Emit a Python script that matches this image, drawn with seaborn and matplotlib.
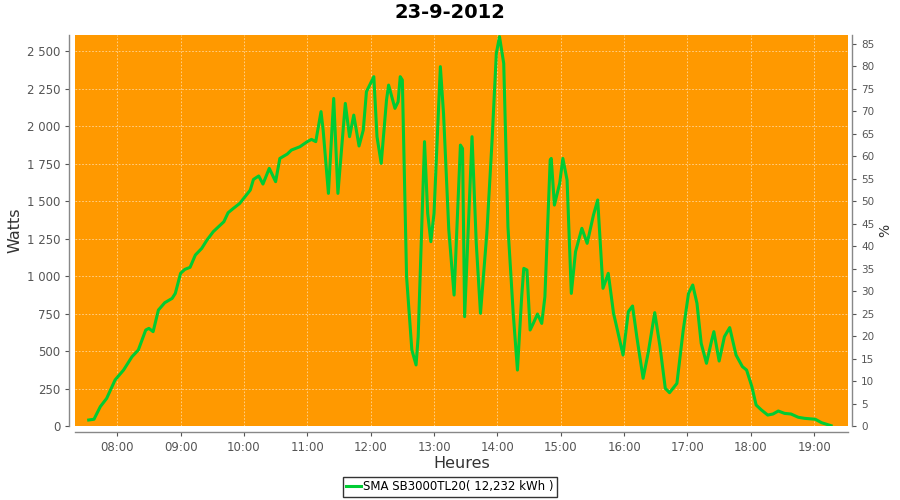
import pandas as pd
import seaborn as sns
import matplotlib.pyplot as plt
import matplotlib.dates as mdates
from matplotlib.ticker import FuncFormatter, MultipleLocator

# readings of the day (time, watts)
times = [
    "07:33", "07:38", "07:44", "07:50", "07:58", "08:06", "08:14", "08:20", "08:27", "08:30",
    "08:34", "08:39", "08:45", "08:52", "08:55", "09:00", "09:04", "09:09", "09:14", "09:20",
    "09:25", "09:31", "09:36", "09:41", "09:45", "09:50", "09:56", "10:01", "10:06", "10:09",
    "10:14", "10:18", "10:24", "10:30", "10:34", "10:41", "10:45", "10:53", "11:00", "11:04",
    "11:08", "11:13", "11:15", "11:20", "11:25", "11:29", "11:36", "11:40", "11:44", "11:49",
    "11:53", "11:56", "12:03", "12:06", "12:10", "12:15", "12:17", "12:23", "12:26", "12:28",
    "12:30", "12:34", "12:39", "12:43", "12:45", "12:51", "12:54", "12:57", "13:00", "13:06",
    "13:09", "13:14", "13:19", "13:25", "13:27", "13:29", "13:36", "13:40", "13:44", "13:50",
    "13:55", "13:59", "14:02", "14:06", "14:10", "14:15", "14:19", "14:23", "14:25", "14:28",
    "14:31", "14:34", "14:38", "14:42", "14:45", "14:50", "14:51", "14:54", "14:59", "15:02",
    "15:06", "15:10", "15:14", "15:20", "15:25", "15:31", "15:35", "15:40", "15:45", "15:50",
    "15:54", "15:59", "16:04", "16:08", "16:12", "16:18", "16:23", "16:29", "16:34", "16:39",
    "16:43", "16:50", "16:56", "17:01", "17:05", "17:09", "17:13", "17:18", "17:23", "17:25",
    "17:30", "17:35", "17:40", "17:46", "17:52", "17:56", "18:01", "18:05", "18:10", "18:16",
    "18:21", "18:26", "18:32", "18:38", "18:45", "18:51", "19:01", "19:07", "19:16",
]
watts = [
    40, 45, 129, 184, 307, 373, 462, 507, 640, 651,
    629, 773, 822, 851, 884, 1018, 1044, 1058, 1140, 1184,
    1240, 1296, 1329, 1362, 1422, 1451, 1484, 1529, 1573, 1644,
    1667, 1613, 1718, 1629, 1784, 1813, 1840, 1862, 1896, 1911,
    1896, 2096, 1973, 1551, 2184, 1551, 2151, 1929, 2073, 1867,
    1973, 2229, 2329, 1929, 1751, 2173, 2273, 2118, 2162, 2329,
    2307, 996, 507, 407, 596, 1896, 1418, 1229, 1418, 2396,
    2084, 1307, 873, 1873, 1850, 729, 1929, 1218, 751, 1284,
    1907, 2484, 2596, 2418, 1329, 751, 373, 862, 1051, 1040,
    640, 684, 747, 684, 862, 1773, 1784, 1473, 1618, 1784,
    1640, 884, 1162, 1318, 1218, 1407, 1507, 918, 1018, 751,
    629, 473, 762, 800, 596, 318, 496, 756, 529, 251,
    222, 284, 640, 884, 940, 818, 551, 418, 573, 629,
    433, 596, 656, 473, 396, 373, 262, 140, 107, 73,
    80, 100, 84, 80, 58, 51, 45, 22, 2,
]
day = "2012-09-23"
title = "23-9-2012"
series_name = "SMA SB3000TL20( 12,232 kWh )"
nominal_power = 3000  # W, for the % axis

df = pd.DataFrame({
    "time": pd.to_datetime([f"{day} {t}" for t in times]),
    "watts": watts,
})

plt.rcParams["font.family"] = "DejaVu Sans"
fig = plt.figure(figsize=(9, 5), dpi=100)
ax = fig.add_axes([0.0833, 0.148, 0.8589, 0.782])
ax.set_facecolor("#FF9900")

sns.lineplot(data=df, x="time", y="watts", ax=ax, color="#00CC33",
             linewidth=2.2, label=series_name, legend=False)

ymax = 2607
ax.set_ylim(0, ymax)
ax.set_xlim(pd.Timestamp(f"{day} 07:20"), pd.Timestamp(f"{day} 19:32"))
ax.yaxis.set_major_locator(MultipleLocator(250))
ax.yaxis.set_major_formatter(FuncFormatter(lambda v, p: f"{v:,.0f}".replace(",", " ")))
ax.xaxis.set_major_locator(mdates.HourLocator())
ax.xaxis.set_major_formatter(mdates.DateFormatter("%H:%M"))
ax.grid(True, color="white", linestyle=(0, (2, 2)), linewidth=0.6, alpha=0.6)

ax.set_xlabel("Heures", fontsize=11.5, color="#333333", labelpad=2)
ax.set_ylabel("Watts", fontsize=11.5, color="#333333", labelpad=3)
fig.suptitle(title, fontsize=14, fontweight="bold", x=0.5, y=0.995)

ax2 = ax.twinx()
ax2.set_ylim(0, ymax / nominal_power * 100)
ax2.yaxis.set_major_locator(MultipleLocator(5))
ax2.set_ylabel("%", fontsize=10, color="#333333", labelpad=3)

for a in (ax, ax2):
    a.tick_params(labelsize=8.5, colors="#555555", length=3, width=0.8)
    for s in a.spines.values():
        s.set_color("#888888")
        s.set_linewidth(1)
ax2.tick_params(axis="y", labelsize=7.5)
ax.spines["left"].set_position(("outward", 4))
ax.spines["bottom"].set_position(("outward", 4))
ax2.spines["right"].set_position(("outward", 3))
ax.spines["top"].set_visible(False)
ax.spines["right"].set_visible(False)
ax2.spines["top"].set_visible(False)
ax2.spines["left"].set_visible(False)
ax2.spines["bottom"].set_visible(False)

handles, labels = ax.get_legend_handles_labels()
leg = fig.legend(handles, labels, loc="lower center", bbox_to_anchor=(0.5, -0.005),
                 fontsize=8.5, frameon=True, fancybox=False, handlelength=1.2,
                 handletextpad=0.2, borderpad=0.3)
leg.get_frame().set_edgecolor("black")
leg.get_frame().set_linewidth(1)

fig.savefig("out.png", dpi=100)
